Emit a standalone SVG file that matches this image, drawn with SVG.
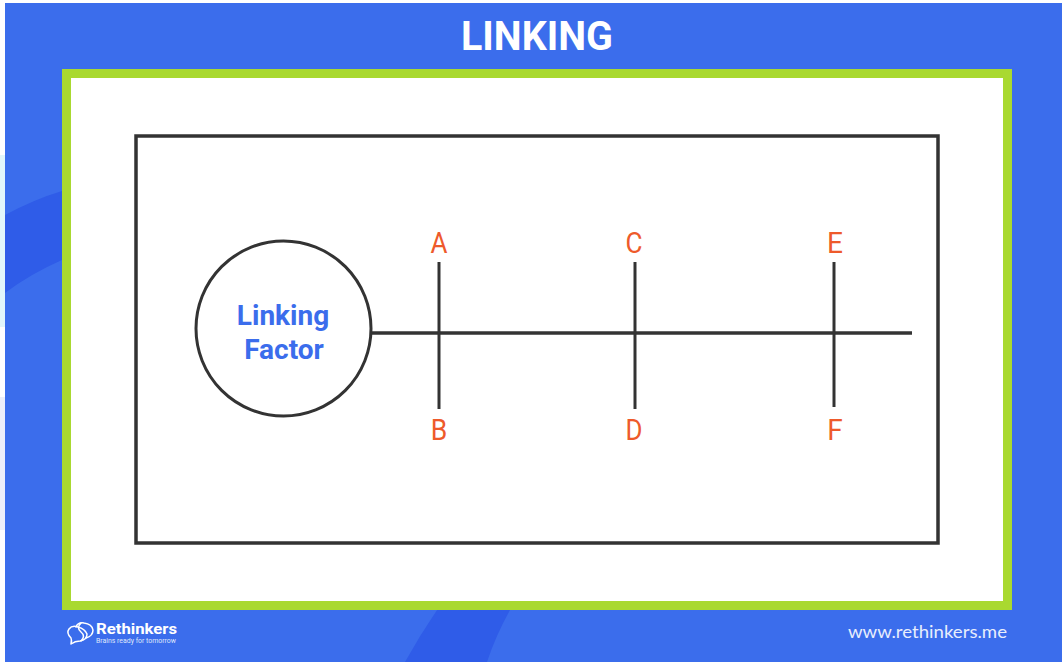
<svg xmlns="http://www.w3.org/2000/svg" width="1062" height="662" viewBox="0 0 1062 662">
  <style>
    .ink { fill: none; stroke: #333333; stroke-width: 3; }
    .letter { font-family: "Roboto", "Liberation Sans", sans-serif; font-size: 29px; fill: #ee5a2b; text-anchor: middle; }
    .hd { font-family: "Roboto", "Liberation Sans", sans-serif; font-weight: 700; text-anchor: middle; }
  </style>
  <rect width="1062" height="662" fill="#ffffff"/>
  <rect x="0" y="155" width="5" height="172" fill="#e2f6fb"/>
  <rect x="0" y="397" width="5" height="133" fill="#eceffa"/>
  <rect x="5" y="3" width="1057" height="659" fill="#3b6dec"/>
  <path d="M5 215 Q35 199 62 191 L62 260 Q30 274 5 293 Z" fill="#2f5ce8"/>
  <path d="M405 662 Q420 635 437 610 L510 610 Q496 635 487 662 Z" fill="#2f5ce8"/>
  <g id="frame">
    <rect x="66.5" y="73.500" width="941" height="532" fill="#ffffff" stroke="#a9d930" stroke-width="9"/>
  </g>
  <g id="title">
    <text class="hd" x="537" y="50" font-size="40" fill="#ffffff" textLength="152" lengthAdjust="spacingAndGlyphs">LINKING</text>
  </g>
  <g id="border">
    <rect class="ink" x="136" y="136" width="802" height="407" style="stroke-width:3.500"/>
  </g>
  <g id="connectors">
    <path class="ink" d="M371 333 H912" style="stroke-width:3.500"/>
    <path class="ink" d="M439 262 V409"/>
    <path class="ink" d="M635 262 V409"/>
    <path class="ink" d="M834 262 V407"/>
  </g>
  <g id="linking-factor">
    <circle class="ink" cx="283.500" cy="328.500" r="87.500" style="fill:#ffffff"/>
    <text class="hd" x="283" y="324.500" font-size="28" fill="#3b6dec">Linking</text>
    <text class="hd" x="284" y="359" font-size="28" fill="#3b6dec">Factor</text>
  </g>
  <g id="label-a"><text class="letter" x="439" y="253" textLength="17" lengthAdjust="spacingAndGlyphs">A</text></g>
  <g id="label-b"><text class="letter" x="439" y="440" textLength="16.500" lengthAdjust="spacingAndGlyphs">B</text></g>
  <g id="label-c"><text class="letter" x="634" y="253" textLength="17" lengthAdjust="spacingAndGlyphs">C</text></g>
  <g id="label-d"><text class="letter" x="634" y="440" textLength="17" lengthAdjust="spacingAndGlyphs">D</text></g>
  <g id="label-e"><text class="letter" x="835" y="253" textLength="16" lengthAdjust="spacingAndGlyphs">E</text></g>
  <g id="label-f"><text class="letter" x="835" y="440" textLength="15.500" lengthAdjust="spacingAndGlyphs">F</text></g>
  <g id="logo">
    <g fill="none" stroke="#ffffff" stroke-width="1.5" stroke-linecap="round" stroke-linejoin="round">
      <path d="M71 644 Q72 640 71 638 Q66 633 69 629 Q72 625 78 627 Q85 629 87 634 Q87 640 80 641 Q75 641 71 644 Z"/>
      <path d="M76 627 Q78 622 84 623 Q92 624 93 630 Q93 636 86 638"/>
      <path d="M81 623 Q76 628 81 632 Q86 636 81 641"/>
    </g>
    <text x="96" y="634" font-family="Roboto, sans-serif" font-weight="700" font-size="15.500" fill="#ffffff" textLength="81" lengthAdjust="spacingAndGlyphs">Rethinkers</text>
    <text x="96" y="643" font-family="Roboto, sans-serif" font-size="7" fill="#dfe7fb" textLength="80" lengthAdjust="spacingAndGlyphs">Brains ready for tomorrow</text>
  </g>
  <g id="website">
    <text x="848" y="638" font-family="Lato, sans-serif" font-size="18" fill="#e8eefc" textLength="159" lengthAdjust="spacingAndGlyphs">www.rethinkers.me</text>
  </g>
</svg>
